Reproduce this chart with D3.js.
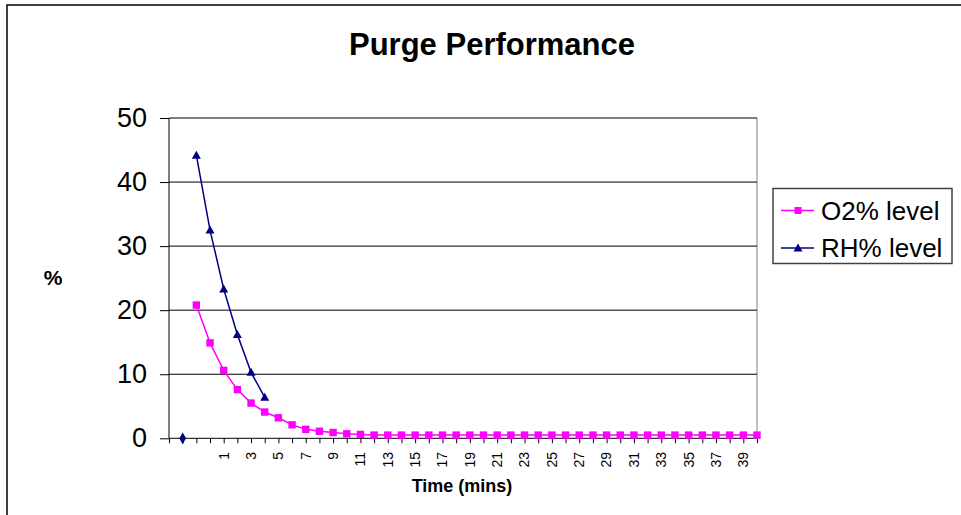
<!DOCTYPE html>
<html><head><meta charset="utf-8">
<script src="https://cdn.jsdelivr.net/npm/d3@7/dist/d3.min.js"></script>
<style>body{margin:0;background:#fff}svg{display:block}text{font-family:"Liberation Sans",Arial,sans-serif}</style>
</head><body><svg id="c" width="961" height="515"></svg>
<script>
// categories (first three are unlabeled slots)
const categories = ["", "", ""].concat(d3.range(0, 41).map(String));
const yTicks = [0, 10, 20, 30, 40, 50];
const seriesBlank = [{i: 1, v: 0}];
const o2Values = [20.8, 14.9, 10.6, 7.6, 5.5, 4.1, 3.2, 2.1, 1.4, 1.1, 0.9, 0.7, 0.6,
  0.5, 0.5, 0.5, 0.5, 0.5, 0.5, 0.5, 0.5, 0.5, 0.5, 0.5, 0.5, 0.5, 0.5, 0.5, 0.5,
  0.5, 0.5, 0.5, 0.5, 0.5, 0.5, 0.5, 0.5, 0.5, 0.5, 0.5, 0.5, 0.5];
const rhValues = [44.2, 32.5, 23.3, 16.2, 10.3, 6.4];
const o2Start = 2, rhStart = 2;
const o2 = o2Values.map((v, k) => ({i: o2Start + k, v}));
const rh = rhValues.map((v, k) => ({i: rhStart + k, v}));

const svg = d3.select("#c");
const L = 169, R = 757, T = 118, B = 438.3;
const x = d3.scalePoint().domain(d3.range(categories.length)).range([L, R]).padding(0);
const y = d3.scaleLinear().domain([0, 50]).range([B, T]);

// chart area border
svg.append("rect").attr("x", 7).attr("y", 5).attr("width", 1100).attr("height", 1100)
  .attr("fill", "#fff").attr("stroke", "#000").attr("stroke-width", 1.5);

// title
svg.append("text").attr("x", 492).attr("y", 55).attr("text-anchor", "middle")
  .attr("font-size", 31).attr("font-weight", "bold").text("Purge Performance");

// plot border right (gray)
svg.append("line").attr("x1", R).attr("x2", R).attr("y1", T).attr("y2", B).attr("stroke", "#808080");

// gridlines
svg.append("g").selectAll("line").data(yTicks.filter(d => d > 0)).join("line")
  .attr("x1", L).attr("x2", R).attr("y1", d => y(d)).attr("y2", d => y(d))
  .attr("stroke", "#000").attr("stroke-width", 1);

// y axis
const ya = svg.append("g").attr("transform", `translate(${L},0)`)
  .call(d3.axisLeft(y).tickValues(yTicks).tickSize(9).tickPadding(13).tickFormat(d3.format("d")));
ya.select(".domain").attr("stroke", "#000").attr("d", `M0,${T}V${B}`);
ya.selectAll(".tick line").attr("stroke", "#000");
ya.selectAll("text").attr("font-size", 27).attr("font-family", '"Liberation Sans",Arial,sans-serif').attr("fill", "#000");

// x axis
const xa = svg.append("g").attr("transform", `translate(0,${B})`)
  .call(d3.axisBottom(x).tickSize(5).tickFormat(""));
xa.select(".domain").attr("stroke", "#000").attr("d", `M${L},0H${R}`);
xa.selectAll(".tick line").attr("stroke", "#000");
svg.append("g").selectAll("text")
  .data(d3.range(categories.length).filter(i => i % 2 === 0 && categories[i] !== ""))
  .join("text")
  .attr("transform", i => `translate(${x(i)},452) rotate(-90)`)
  .attr("text-anchor", "end").attr("dy", "0.35em").attr("font-size", 14)
  .text(i => categories[i]);

// axis titles
svg.append("text").attr("x", 462).attr("y", 492).attr("text-anchor", "middle")
  .attr("font-size", 18).attr("font-weight", "bold").text("Time (mins)");
svg.append("text").attr("x", 53).attr("y", 285).attr("text-anchor", "middle")
  .attr("font-size", 21).attr("font-weight", "bold").text("%");

const line = d3.line().x(d => x(d.i)).y(d => y(d.v));
const O2C = "#ff00ff", RHC = "#000080";

// blank series diamond
svg.append("g").selectAll("path").data(seriesBlank).join("path")
  .attr("d", d3.symbol(d3.symbolDiamond, 40))
  .attr("transform", d => `translate(${x(d.i)},${y(d.v)})`).attr("fill", RHC);

// O2 series
svg.append("path").datum(o2).attr("d", line).attr("fill", "none").attr("stroke", O2C).attr("stroke-width", 1.5);
svg.append("g").selectAll("rect").data(o2).join("rect")
  .attr("x", d => x(d.i) - 3.7).attr("y", d => y(d.v) - 3.7).attr("width", 7.4).attr("height", 7.4)
  .attr("fill", O2C);

// RH series
svg.append("path").datum(rh).attr("d", line).attr("fill", "none").attr("stroke", RHC).attr("stroke-width", 1.5);
svg.append("g").selectAll("path").data(rh).join("path")
  .attr("d", "M0,-4.5L4.5,3.5L-4.5,3.5Z")
  .attr("transform", d => `translate(${x(d.i)},${y(d.v)})`).attr("fill", RHC);

// legend
const lg = svg.append("g");
lg.append("rect").attr("x", 773).attr("y", 188.5).attr("width", 179).attr("height", 75)
  .attr("fill", "#fff").attr("stroke", "#404040").attr("stroke-width", 1.5);
const legendItems = [{name: "O2% level", c: O2C, m: "sq", yy: 210.5}, {name: "RH% level", c: RHC, m: "tri", yy: 248}];
legendItems.forEach(it => {
  lg.append("line").attr("x1", 781).attr("x2", 814).attr("y1", it.yy).attr("y2", it.yy).attr("stroke", it.c).attr("stroke-width", 1.5);
  if (it.m === "sq") lg.append("rect").attr("x", 794.5).attr("y", it.yy - 3.5).attr("width", 7).attr("height", 7).attr("fill", it.c);
  else lg.append("path").attr("d", "M0,-4.5L4.5,3.5L-4.5,3.5Z").attr("transform", `translate(798,${it.yy})`).attr("fill", it.c);
  lg.append("text").attr("x", 821).attr("y", it.yy).attr("dy", "0.36em").attr("font-size", 26).text(it.name);
});
</script></body></html>
